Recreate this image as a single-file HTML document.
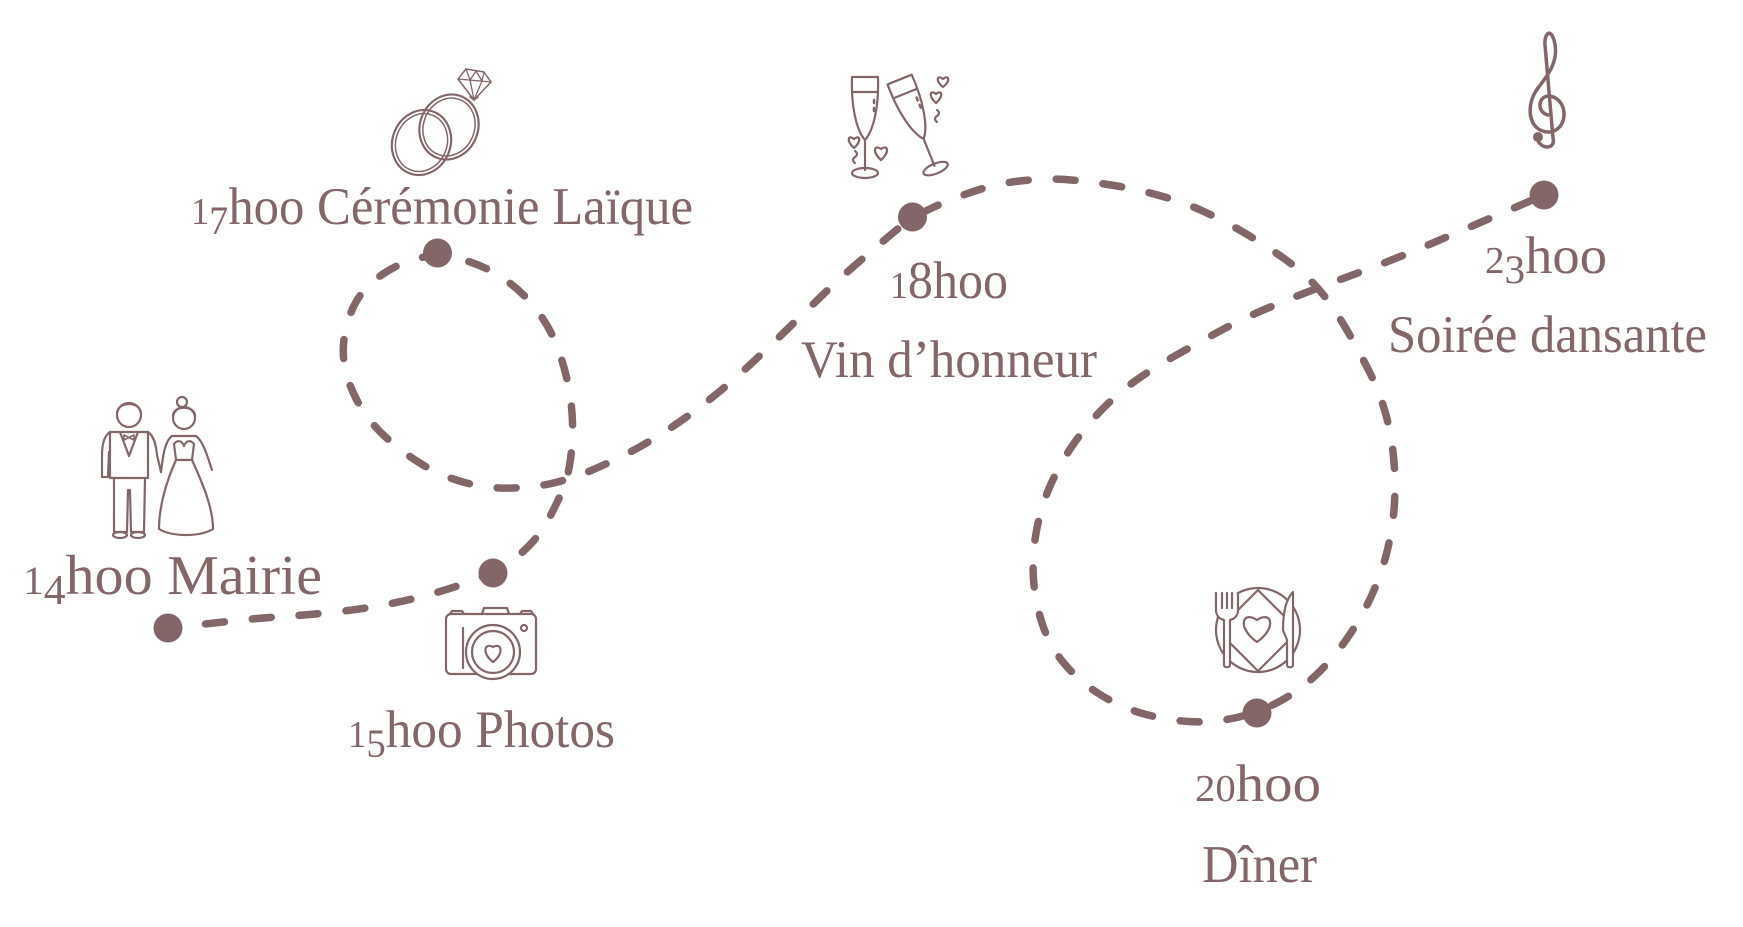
<!DOCTYPE html>
<html>
<head>
<meta charset="utf-8">
<style>
  html,body{margin:0;padding:0;background:#fff;}
  svg{display:block;}
  .t{font-family:"Liberation Serif",serif;fill:#836668;}
</style>
</head>
<body>
<svg width="1743" height="927" viewBox="0 0 1743 927" xmlns="http://www.w3.org/2000/svg">
  <rect width="1743" height="927" fill="#fff"/>

  <!-- dashed route -->
  <path fill="none" stroke="#836668" stroke-width="7.5" stroke-linecap="round" stroke-linejoin="round"
        stroke-dasharray="19 28" stroke-dashoffset="9.25"
        d="M168,628 L191,625.5 Q214,623 237,620.5 Q260,618 283,616.5 Q306,615 330.5,612.5 Q355,610 378,606 Q401,602 424,596 Q447,590 470,581.5 Q493,573 508,563 Q523,553 533,541.5 Q543,530 550,516.5 Q557,503 562.5,490.5 Q568,478 570.5,459 Q573,440 572.5,422.5 Q572,405 568.5,386.5 Q565,368 557.5,347.5 Q550,327 535.5,308.5 Q521,290 502,277.5 Q483,265 460,259 Q437,253 415.5,259 Q394,265 376,279 Q358,293 350,315 Q342,337 343.5,357 Q345,377 356,398.5 Q367,420 385,436.5 Q403,453 423,465 Q443,477 466.5,483 Q490,489 513.5,488 Q537,487 553.5,483 Q570,479 585,473 Q600,467 617.5,458.5 Q635,450 651.5,440 Q668,430 685,418 Q702,406 719.5,391.5 Q737,377 753.5,361.5 Q770,346 787,329.5 Q804,313 821,296.5 Q838,280 857,263.5 Q876,247 894,232 Q912,217 934,207 Q956,197 978,190 Q1000,183 1024,180.5 Q1048,178 1071,180 Q1094,182 1117,186 Q1140,190 1163,196.5 Q1186,203 1207,213 Q1228,223 1248,235 Q1268,247 1284,258.5 Q1300,270 1311,281 Q1322,292 1331,305 Q1340,318 1350,335.5 Q1360,353 1370,373 Q1380,393 1386,415 Q1392,437 1394,462 Q1396,487 1394,510 Q1392,533 1386,555.5 Q1380,578 1370,599 Q1360,620 1346,640 Q1332,660 1315,676 Q1298,692 1277.5,702.5 Q1257,713 1234.5,718 Q1212,723 1188.5,721.5 Q1165,720 1142.5,713.5 Q1120,707 1100,694.5 Q1080,682 1065,664.5 Q1050,647 1042.5,624.5 Q1035,602 1033.5,579.5 Q1032,557 1036,533.5 Q1040,510 1049,488.5 Q1058,467 1071.5,447 Q1085,427 1101.5,410 Q1118,393 1136.5,380 Q1155,367 1176.5,355 Q1198,343 1219,331.5 Q1240,320 1261,311 Q1282,302 1301,294.5 Q1320,287 1343,278.5 Q1366,270 1389,261 Q1412,252 1434,242.5 Q1456,233 1478,223.5 Q1500,214 1522,204.5 L1544,195"/>

  <!-- dots -->
  <g fill="#836668">
    <circle cx="168" cy="628" r="14.5"/>
    <circle cx="493" cy="573" r="14.5"/>
    <circle cx="437.5" cy="253" r="14.5"/>
    <circle cx="912.5" cy="217" r="14.5"/>
    <circle cx="1257" cy="713" r="14.5"/>
    <circle cx="1544" cy="195" r="14.5"/>
  </g>

  <!-- icons -->
  <g fill="none" stroke="#836668" stroke-width="2.2" stroke-linecap="round" stroke-linejoin="round">
    <!-- rings -->
    <ellipse cx="421.5" cy="142.5" rx="29" ry="33" transform="rotate(22 421.5 142.5)"/>
    <ellipse cx="421.5" cy="142.5" rx="25.5" ry="29.5" transform="rotate(22 421.5 142.5)" stroke-width="1.5"/>
    <ellipse cx="449" cy="127" rx="29" ry="33" transform="rotate(22 449 127)"/>
    <ellipse cx="449" cy="127" rx="25.5" ry="29.5" transform="rotate(22 449 127)" stroke-width="1.5"/>
    <path d="M470,97 L474,100 L478,97" stroke-width="1.5"/>
    <path d="M458,79 L466,69 L484,72 L491,82 L474,100 Z" stroke-width="1.5"/>
    <path d="M458,79 L491,82 M466,69 L470,80 L474,100 M476,71 L470,80 M476,71 L482,81 L474,100 M484,72 L482,81" stroke-width="1.3"/>

    <!-- champagne glasses -->
    <path d="M852,77 L878,77 M852,77 C851,105 856,130 865,140 C874,130 879,105 878,77 M852,92 L878,92 M865,140 L865,170"/>
    <ellipse cx="865" cy="173" rx="13" ry="5"/>
    <path d="M874,100 L874,103 M874,108 L874,111" stroke-width="2.5"/>
    <g transform="rotate(-22 918 125)">
      <path d="M905,76 L931,76 M905,76 C904,104 909,130 918,140 C927,130 932,104 931,76 M905,91 L931,91 M918,140 L918,169"/>
      <ellipse cx="918" cy="172" rx="13" ry="5"/>
      <path d="M927,99 L927,102 M927,107 L927,110" stroke-width="2.5"/>
    </g>
    <path d="M943,87 C935,81 937,74 943,79 C949,74 951,81 943,87 Z"/>
    <path d="M936,103 C928,96 930,89 936,94 C942,89 944,96 936,103 Z"/>
    <path d="M937,110 q4,3 0,6 q-4,3 0,6"/>
    <path d="M854,148 C846,141 848,134 854,139 C860,134 862,141 854,148 Z"/>
    <path d="M881,160 C872,152 874,144 881,149 C888,144 890,152 881,160 Z"/>
    <path d="M855,151 q4,3 0,6 q-4,3 0,6"/>

    <!-- couple -->
    <circle cx="129" cy="415" r="12"/>
    <path d="M117,413 C118,401 140,401 141,413"/>
    <path d="M110,432 L148,432 L148,478 L110,478 Z" fill="#fff"/>
    <path d="M110,432 C104,436 102,445 102,455 L102,477 L108,477 L109,452"/>
    <path d="M148,432 C154,436 156,445 157,455 L161,472"/>
    <path d="M120,432 L129,456 L138,432"/>
    <path d="M124,435 L134,440 L134,435 L124,440 Z" stroke-width="1.6"/>
    <path d="M114,478 L114,532 L127,532 L128,490 L130,490 L131,532 L144,532 L145,478"/>
    <ellipse cx="120" cy="535" rx="7" ry="3"/>
    <ellipse cx="138" cy="535" rx="7" ry="3"/>
    <circle cx="184" cy="418" r="11"/>
    <circle cx="182" cy="402" r="5"/>
    <path d="M173,416 C173,405 195,405 195,416"/>
    <path d="M172,436 C165,441 163,455 161,472 M196,436 C203,441 207,455 212,470"/>
    <path d="M172,436 L196,436"/>
    <path d="M174,444 C178,439 182,441 184,446 C186,441 190,439 194,444 M174,444 L176,460 M194,444 L192,460 M176,460 L192,460"/>
    <path d="M176,460 C166,482 159,507 159,529 C172,537 200,537 213,529 C213,507 202,482 192,460 Z" fill="#fff"/>

    <!-- camera -->
    <path d="M482,614 L484,608 L507,608 L509,614 M450,614 L452,611 L462,611 L464,614 M520,614 L522,611 L531,611 L533,614"/>
    <rect x="446" y="614" width="90" height="60" rx="5"/>
    <circle cx="493" cy="652" r="27" fill="#fff"/>
    <circle cx="493" cy="652" r="21"/>
    <path d="M493,662 C482,654 484,642 493,647 C502,642 504,654 493,662 Z"/>
    <path d="M463,628 L463,668"/>
    <circle cx="524" cy="628" r="3"/>

    <!-- plate -->
    <circle cx="1258" cy="630" r="42"/>
    <path d="M1258,590 L1287,619 L1287,642 L1258,671 L1229,642 L1229,619 Z"/>
    <path d="M1216,593 L1216,610 C1216,616 1220,619 1224,620 L1224,665 C1224,668 1230,668 1230,665 L1230,620 C1234,619 1238,616 1238,610 L1238,593 M1222,593 L1222,608 M1227,593 L1227,608 M1232,593 L1232,608" fill="#fff"/>
    <path d="M1293,592 L1293,665 C1293,668 1287,668 1287,665 L1287,640 L1283,630 C1283,610 1287,598 1293,592 Z" fill="#fff"/>
    <path d="M1257,642 C1237,628 1242,610 1257,620 C1272,610 1277,628 1257,642 Z"/>

    <!-- treble clef -->
    <path stroke-width="3.5" d="M1537,138 C1540,150 1556,150 1553,138 L1545,45 C1544,35 1550,27 1554,40 C1560,60 1548,75 1538,88 C1525,105 1528,131 1548,132 C1568,132 1570,100 1550,96 C1538,95 1536,112 1548,115"/>
  </g>
  <circle cx="1538" cy="137" r="5" fill="#836668"/>

  <!-- labels -->
  <g class="t" font-size="53">
    <text x="191" y="224" textLength="502" lengthAdjust="spacingAndGlyphs"><tspan font-size="38">1</tspan><tspan font-size="40" dy="10">7</tspan><tspan dy="-10">hoo Cérémonie Laïque</tspan></text>
    <text x="23" y="594" font-size="56" textLength="299" lengthAdjust="spacingAndGlyphs"><tspan font-size="40">1</tspan><tspan font-size="42" dy="10">4</tspan><tspan dy="-10">hoo Mairie</tspan></text>
    <text x="348" y="747" textLength="267" lengthAdjust="spacingAndGlyphs"><tspan font-size="38">1</tspan><tspan font-size="40" dy="10">5</tspan><tspan dy="-10">hoo Photos</tspan></text>
    <text x="890" y="298" textLength="118" lengthAdjust="spacingAndGlyphs"><tspan font-size="38">1</tspan><tspan>8hoo</tspan></text>
    <text x="801" y="377" textLength="296" lengthAdjust="spacingAndGlyphs">Vin d’honneur</text>
    <text x="1485" y="273" textLength="122" lengthAdjust="spacingAndGlyphs"><tspan font-size="38">2</tspan><tspan font-size="40" dy="10">3</tspan><tspan dy="-10">hoo</tspan></text>
    <text x="1388" y="352" textLength="319" lengthAdjust="spacingAndGlyphs">Soirée dansante</text>
    <text x="1195" y="801" textLength="126" lengthAdjust="spacingAndGlyphs"><tspan font-size="38">20</tspan><tspan>hoo</tspan></text>
    <text x="1202" y="882" textLength="115" lengthAdjust="spacingAndGlyphs">Dîner</text>
  </g>
</svg>
</body>
</html>
